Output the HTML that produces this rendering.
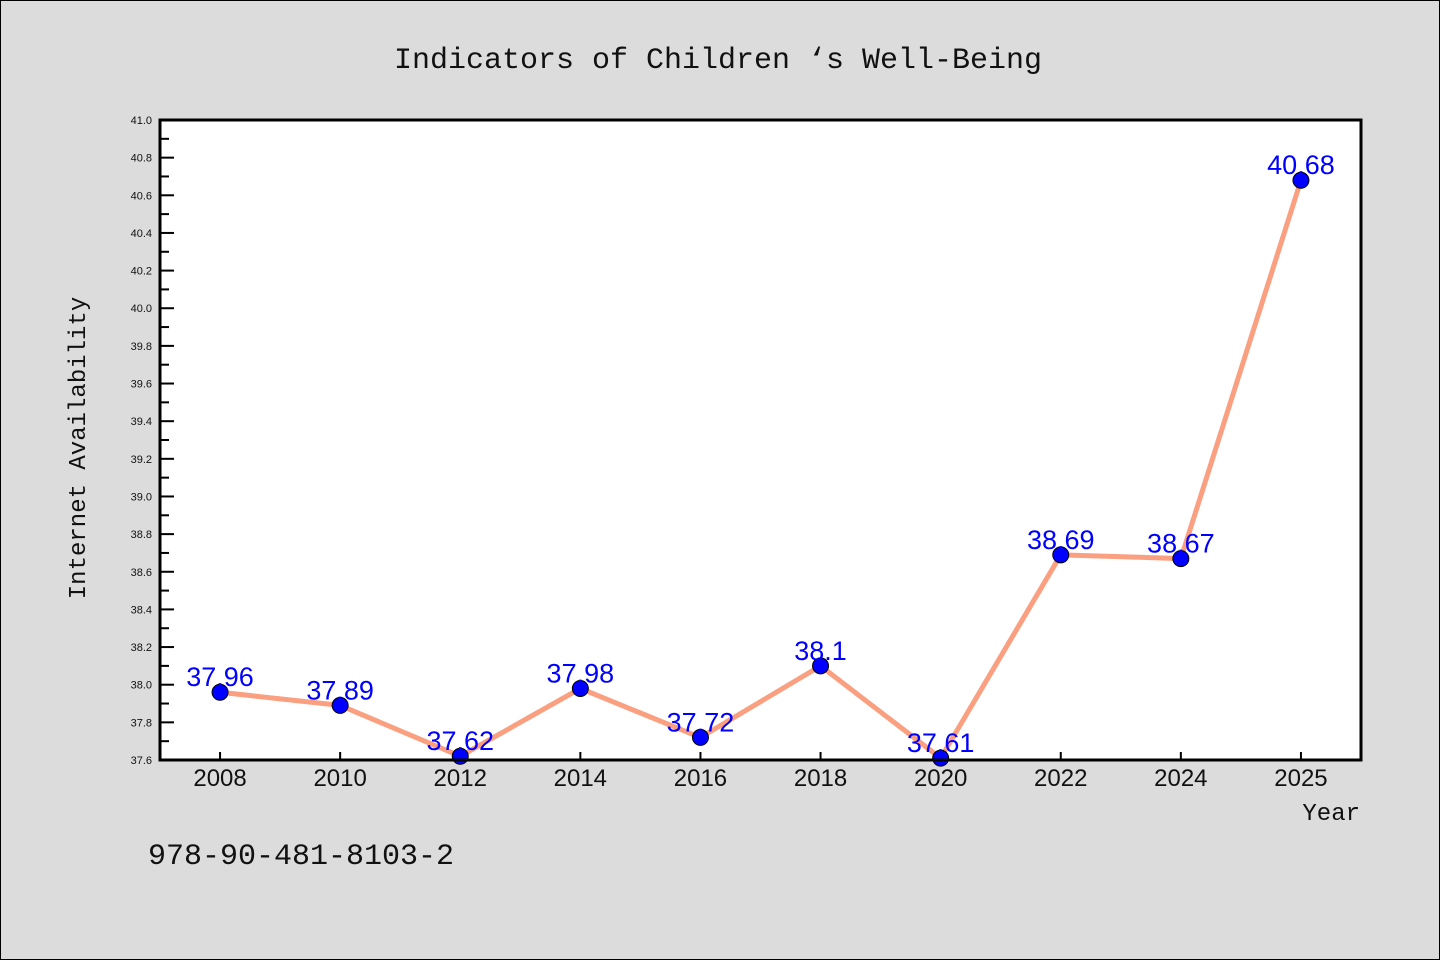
<!DOCTYPE html>
<html><head><meta charset="utf-8"><style>
html,body{margin:0;padding:0;background:#dcdcdc;}
svg{display:block;font-family:"Liberation Sans","DejaVu Sans",sans-serif;}
</style></head><body>
<svg id="c" width="1440" height="960" xmlns="http://www.w3.org/2000/svg">
<rect x="0.5" y="0.5" width="1439" height="959" fill="#dcdcdc" stroke="#000"/>
<text x="718" y="68" text-anchor="middle" font-size="30" font-family="Liberation Mono, monospace" fill="#111">Indicators of Children ‘s Well-Being</text>
<rect x="160" y="120" width="1201" height="640" fill="#fff"/>
<g id="ticks"></g>
<g id="series"></g>
<rect x="160" y="120" width="1201" height="640" fill="none" stroke="#000" stroke-width="3"/>
<text transform="translate(85,448) rotate(-90)" text-anchor="middle" font-size="24" font-family="Liberation Mono, monospace" fill="#111">Internet Availability</text>
<text x="1360" y="820" text-anchor="end" font-size="24" font-family="Liberation Mono, monospace" fill="#111">Year</text>
<text x="148" y="864" font-size="30" font-family="Liberation Mono, monospace" fill="#111">978-90-481-8103-2</text>
</svg>
<script>
const categories=["2008","2010","2012","2014","2016","2018","2020","2022","2024","2025"];
const values=[37.96,37.89,37.62,37.98,37.72,38.1,37.61,38.69,38.67,40.68];
const yTicks=[37.6,37.8,38.0,38.2,38.4,38.6,38.8,39.0,39.2,39.4,39.6,39.8,40.0,40.2,40.4,40.6,40.8,41.0];
const yMin=37.6,yMax=41.0;
const L=160,R=1361,T=120,B=760;
const NS="http://www.w3.org/2000/svg";
const bw=(R-L)/categories.length;
function xs(i){return L+bw*(i+0.5);}
function ys(v){return B-(v-yMin)/(yMax-yMin)*(B-T);}
function mk(t,a,p){const e=document.createElementNS(NS,t);for(const k in a)e.setAttribute(k,a[k]);p.appendChild(e);return e;}
const tg=document.getElementById('ticks'),sg=document.getElementById('series');
yTicks.forEach((v,i)=>{
 const y=ys(v);
 const l=mk('line',{x1:L,x2:L+14,y1:y,y2:y,stroke:'#000','stroke-width':2},tg);
 
 
 const t=mk('text',{x:L-8,y:y+4,'text-anchor':'end','font-size':11,fill:'#111'},tg);
 t.textContent=v.toFixed(1);
 
 
 if(i<yTicks.length-1){
  const ym=ys(v+0.1);
  const m=mk('line',{x1:L,x2:L+9,y1:ym,y2:ym,stroke:'#000','stroke-width':2},tg);
  
  
 }
});
categories.forEach((c,i)=>{
 const x=xs(i);
 const l=mk('line',{x1:x,x2:x,y1:B,y2:B-8,stroke:'#000','stroke-width':2},tg);
 
 
 const t=mk('text',{x:x,y:B+26,'text-anchor':'middle','font-size':24,fill:'#111'},tg);
 t.textContent=c;
 
 
});
const pts=values.map((v,i)=>xs(i)+','+ys(v)).join(' ');
const pl=mk('polyline',{points:pts,fill:'none',stroke:'#fa9f7f','stroke-width':5,'stroke-linejoin':'round'},sg);


values.forEach((v,i)=>{
 const c=mk('circle',{cx:xs(i),cy:ys(v),r:8,fill:'#0000ff',stroke:'#000','stroke-width':1},sg);
 
 
});
values.forEach((v,i)=>{
 const t=mk('text',{x:xs(i),y:ys(v)-6,'text-anchor':'middle','font-size':27,fill:'#0000ff'},sg);
 t.textContent=String(v);
 
 
});
</script>
</body></html>
